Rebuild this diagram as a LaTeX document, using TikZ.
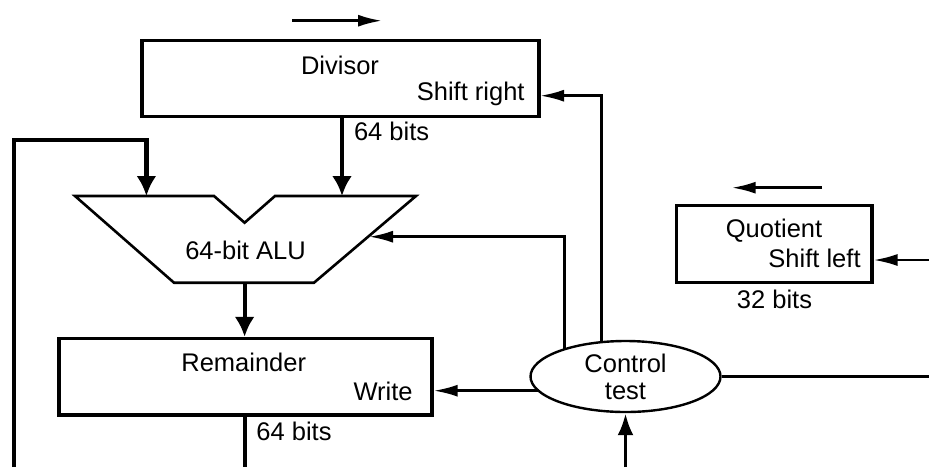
\documentclass[tikz,border=0pt]{standalone}
\usepackage{fontspec}
\setmainfont{Liberation Sans}
\usetikzlibrary{arrows.meta,shapes.geometric}
\tikzset{
  regbox/.style={draw, line width=1.6pt, rectangle, inner sep=0pt},
  ctlshape/.style={draw, line width=1.2pt, ellipse, inner sep=0pt, minimum width=95pt, minimum height=35.5pt, align=center},
  lbl/.style={inner sep=0pt, anchor=base},
  lblE/.style={inner sep=0pt, anchor=base east},
  lblW/.style={inner sep=0pt, anchor=base west},
  thinarrow/.style={line width=1.3pt, -{Latex[length=12pt,width=6pt]}},
  thinline/.style={line width=1.3pt},
  thickarrow/.style={line width=2.1pt, -{Latex[length=10pt,width=10pt]}},
  thickline/.style={line width=2.1pt},
  aluline/.style={line width=1.3pt, line join=miter},
}
\begin{document}
\begin{tikzpicture}[x=0.5pt,y=-0.5pt, font=\fontsize{12.75}{13.5}\selectfont]
\useasboundingbox (0,0) rectangle (929,467);
% registers
\node[regbox, minimum width=198.5pt, minimum height=38pt] (div) at (340.5,78.7) {};
\node[lbl] (divT) at (340,74) {Divisor};
\node[lblE] (divS) at (525,100) {Shift right};
\node[lblW] (divB) at (353.6,140) {64 bits};

\node[regbox, minimum width=97.6pt, minimum height=38.5pt] (quo) at (774.3,244.2) {};
\node[lbl] (quoT) at (774,237) {Quotient};
\node[lblE] (quoS) at (861,267) {Shift left};
\node[lbl] (quoB) at (774.5,308) {32 bits};

\node[regbox, minimum width=186.5pt, minimum height=38.3pt] (rem) at (245.5,376.7) {};
\node[lbl] (remT) at (243.7,371.7) {Remainder};
\node[lblE] (remW) at (413,400) {Write};
\node[lblW] (remB) at (256,440) {64 bits};

% control
\node[ctlshape] (ctl) at (625.5,376.5) {Control\\test};

% ALU
\coordinate (a1) at (75,196);
\coordinate (a2) at (214,196);
\coordinate (a3) at (244.6,222.7);
\coordinate (a4) at (275,196);
\coordinate (a5) at (416,196);
\coordinate (a6) at (314,282.7);
\coordinate (a7) at (174,282.7);
\draw[aluline] (a1) -- (a2) -- (a3) -- (a4) -- (a5) -- (a6) -- (a7) -- cycle;
\node[lbl] (aluT) at (245.5,259.3) {64-bit ALU};
\coordinate (aluInA) at (146.4,196);
\coordinate (aluInB) at (342,196);
\coordinate (aluOut) at (244.6,282.7);
\coordinate (aluCtl) at (369,236.7);

% direction arrows
\coordinate (dd1) at (292,20.7);
\coordinate (dd2) at (382,20.7);
\draw[thinarrow] (dd1) -- (dd2);
\coordinate (qd1) at (822,187.7);
\coordinate (qd2) at (731.7,187.7);
\draw[thinarrow] (qd1) -- (qd2);

% datapath
\draw[thickarrow] (aluInB |- div.south) -- (aluInB);
\coordinate (fb0) at (14.3,467);
\coordinate (fbc) at (146.4,140);
\draw[thickarrow] (fb0) |- (fbc) -- (aluInA);
\draw[thickarrow] (aluOut) -- (aluOut |- rem.north);
\coordinate (rb) at (244.6,467);
\draw[thickline] (rem.south -| rb) -- (rb);

% control lines
\coordinate (cw) at (538.5,390.7);
\draw[thinarrow] (cw) -- (cw -| rem.east);
\coordinate (c2) at (564.3,349.5);
\draw[thinarrow] (c2) |- (aluCtl);
\coordinate (c3) at (601.7,342.1);
\coordinate (divR) at (540,95.7);
\draw[thinarrow] (c3) |- (divR);
\coordinate (cr) at (929,376.5);
\draw[thinline] (ctl.east) -- (cr);
\coordinate (cb) at (625.5,467);
\draw[line width=1.9pt, -{Latex[length=11pt,width=8pt]}] (cb) -- (ctl.south);
\coordinate (qr) at (929,260);
\draw[thinarrow] (qr) -- (qr -| quo.east);
\end{tikzpicture}
\end{document}
